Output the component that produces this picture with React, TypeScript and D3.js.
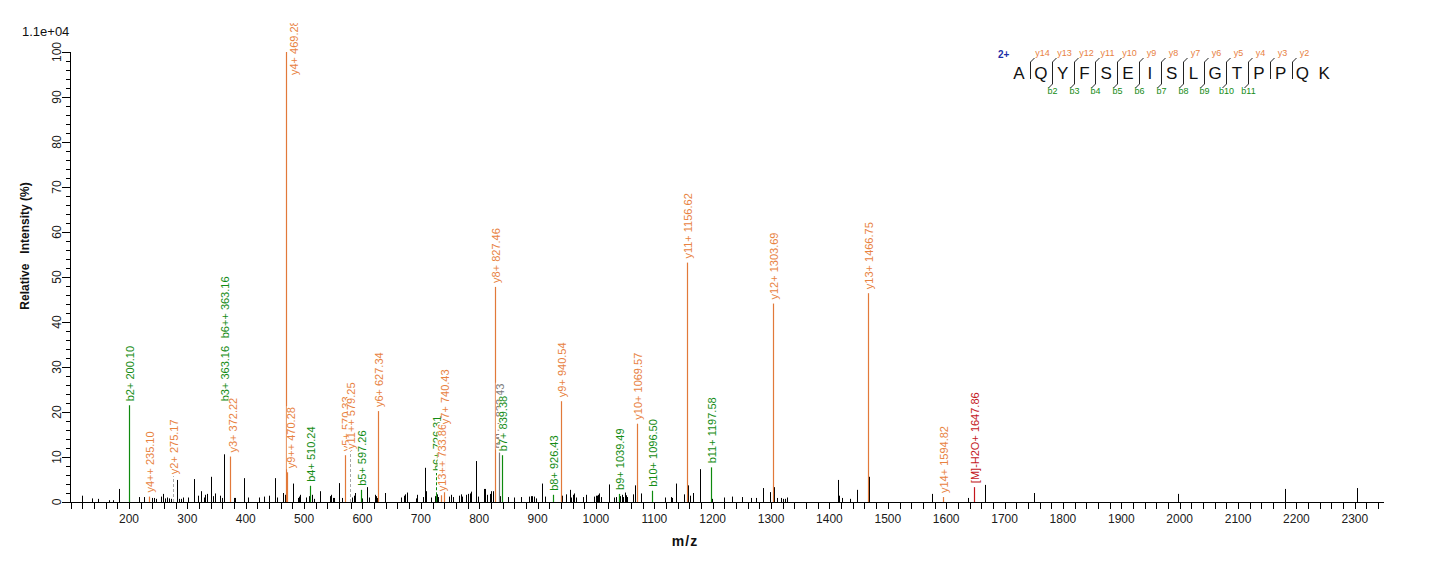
import React, { useEffect, useRef } from 'react';
import * as d3 from 'd3';

const W = 1436;
const H = 562;
const FONT = 'Arial, "Liberation Sans", sans-serif';

// Unassigned fragment peaks: m/z and relative intensity (%)
const peakMz = [
  120, 137, 147, 166, 173, 183, 218, 226, 240, 243, 246, 255, 259, 262, 265, 269, 272, 283, 286, 289,
  292, 301.6, 312, 319, 324, 328, 331, 333, 341, 344, 347, 356, 359, 363, 380, 382, 397.5, 404, 422, 432,
  440, 451, 454, 464, 467, 481, 489.5, 492, 493.5, 503, 508, 513, 517, 528, 544, 546.5, 549, 552, 560, 565,
  582, 585, 588, 600, 608, 612, 621, 623, 625, 639, 666, 670.5, 673, 676, 692, 694, 703.6, 706.5, 707.8, 709.5,
  718, 724.6, 727.5, 730, 748, 751, 755.5, 765, 768, 770, 778, 780.7, 783.6, 785.5, 795, 798, 808, 810, 813,
  818, 821, 824, 835.5, 849, 859.5, 872, 885.7, 888, 890.8, 893, 896.6, 908, 912, 942, 948.5, 955, 958, 961,
  963, 965.7, 978, 983, 997, 999.5, 1001.6, 1003.4, 1005.6, 1009, 1021.6, 1030.8, 1034.7, 1041.7, 1044.5,
  1046.7, 1049, 1051.3, 1054, 1063.8, 1066.7, 1077.6, 1118, 1129, 1130.7, 1137.5, 1151, 1158.5, 1161, 1166.6,
  1178.6, 1199.5, 1219, 1233, 1250.5, 1266, 1274.5, 1285.5, 1298, 1305.5, 1309.5, 1317.4, 1319.7, 1324.2,
  1327.6, 1414, 1416, 1420.8, 1436, 1448, 1468.5, 1575, 1638, 1666.7, 1751, 1997.5, 2180.7, 2304,
];
const peakPct = [
  1.4, 0.8, 0.7, 0.4, 0.4, 2.9, 1.1, 1.1, 0.9, 0.9, 0.7, 1.2, 1.8, 0.8, 1.0, 0.8, 0.7, 4.9, 0.7, 0.7,
  1.0, 1.0, 5.1, 1.4, 2.4, 1.0, 1.6, 1.8, 5.6, 1.3, 1.9, 1.4, 0.9, 10.6, 0.9, 0.9, 5.3, 1.0, 1.0, 1.2,
  1.4, 5.3, 1.0, 2.0, 1.6, 4.1, 0.9, 1.2, 1.6, 1.0, 1.3, 1.6, 0.7, 2.4, 1.3, 1.6, 0.9, 0.9, 4.2, 0.9,
  1.0, 1.4, 2.0, 0.8, 3.3, 1.0, 1.6, 1.3, 0.9, 2.0, 1.0, 1.4, 1.7, 2.1, 0.8, 1.6, 1.1, 1.7, 7.6, 2.4,
  1.0, 1.3, 1.7, 1.1, 1.2, 1.6, 1.1, 1.4, 1.7, 1.2, 1.6, 1.8, 1.9, 2.3, 9.1, 1.2, 2.9, 2.9, 1.6,
  1.8, 2.4, 2.4, 1.3, 1.1, 1.0, 1.1, 1.2, 1.3, 1.3, 1.2, 0.8, 4.1, 1.2, 1.4, 1.7, 2.7, 1.0, 1.6,
  1.9, 1.0, 1.1, 1.6, 1.2, 1.4, 1.4, 1.6, 1.9, 1.1, 3.9, 1.0, 1.1, 1.3, 1.6,
  1.1, 2.1, 1.5, 1.1, 1.7, 3.7, 1.9, 1.0, 1.1, 0.9, 4.1, 1.7, 3.7, 1.4, 2.0,
  7.3, 0.7, 1.0, 1.2, 1.1, 0.9, 0.9, 3.1, 2.2, 3.3, 0.9, 0.9, 0.7, 0.7,
  1.0, 4.9, 1.4, 0.9, 0.7, 2.7, 5.6, 1.8, 0.9, 3.8, 2.0, 1.8, 2.9, 3.1,
];

// Assigned ions, in drawing order (later labels sit on top of earlier ones)
const ionLabel = [
  'b2+', 'y4++', 'y2+', 'b6++', 'b3+', 'y3+', 'y4+', 'y9++', 'b4+', 'y5+', 'y11++', 'b5+', 'y6+',
  'b6+', 'y13++', 'y7+', 'y8+', '[M]++', 'b7+', 'b8+', 'y9+', 'b9+', 'y10+', 'b10+', 'y11+', 'b11+',
  'y12+', 'y13+', 'y14+', '[M]-H2O+',
];
const ionMz = [
  200.10, 235.10, 275.17, 363.16, 363.16, 372.22, 469.28, 470.28, 510.24, 570.33, 579.25, 597.26, 627.34,
  726.31, 733.86, 740.43, 827.46, 833.43, 839.38, 926.43, 940.54, 1039.49, 1069.57, 1096.50, 1156.62, 1197.58,
  1303.69, 1466.75, 1594.82, 1647.86,
];
const ionPct = [
  21.5, 1.2, 0, 0, 0, 10.1, 100, 6.6, 3.6, 10.4, 0, 2.7, 20.2,
  1.5, 1.5, 16.4, 47.8, 11.0, 10.4, 1.6, 22.4, 1.8, 17.4, 2.5, 53.2, 7.7,
  44.1, 46.4, 1.1, 3.3,
];
// Level (%) where a displaced label starts; null keeps it on the peak top
const ionLabelPct: (number | null)[] = [
  null, null, 5.3, 35.5, 21.5, null, 94.0, null, null, null, 10.9, null, null,
  6.0, null, null, null, null, null, null, null, null, null, null, null, null,
  null, null, null, null,
];
const ionDx = [
  1, 1, 1, 1, 1, 3, 8, 4, 1, 1, 1, 1, 1,
  1, 1, 1, 1, 1, 1, 1, 1, 1, 1, 1, 1, 1,
  1, 1, 1, 1,
];
// Connector from peak to a displaced label
const ionLink = [
  '', '', 'grey', '', '', '', '', '', '', '', 'grey', '', '',
  'b', '', '', '', '', '', '', '', '', '', '', '', '',
  '', '', '', '',
];

const xTickStart = 100;
const xTickEnd = 2340;
const xLabels = d3.range(200, 2301, 100);
const yLabels = d3.range(0, 101, 10);

const sequence = 'AQYFSEISLGTPPQK';
const yIons = [14, 13, 12, 11, 10, 9, 8, 7, 6, 5, 4, 3, 2];
const bIons = [0, 2, 3, 4, 5, 6, 7, 8, 9, 10, 11, 0, 0];

const COLORS: Record<string, { line: string; text: string }> = {
  y: { line: '#E2793A', text: '#E8823F' },
  b: { line: '#0E8A0E', text: '#148C14' },
  p: { line: '#7a7a7a', text: '#7A7A7A' },
  m: { line: '#C4161C', text: '#C4161C' },
};

function ionKind(name: string): string {
  if (name.startsWith('[M]-')) return 'm';
  if (name.startsWith('[M]')) return 'p';
  return name[0];
}

export default function App() {
  const ref = useRef<SVGSVGElement | null>(null);

  useEffect(() => {
    const svg = d3.select(ref.current);
    svg.selectAll('*').remove();

    const x = d3.scaleLinear().domain([100, 2350]).range([70.6, 1384]);
    const y = d3.scaleLinear().domain([0, 100]).range([502, 52]);
    const px = (v: number) => Math.round(x(v)) + 0.5;

    svg.append('rect').attr('width', W).attr('height', H).attr('fill', '#fff');

    const defs = svg.append('defs');
    defs.append('clipPath').attr('id', 'plot-clip')
      .append('rect').attr('x', 70).attr('y', 23).attr('width', 1330).attr('height', 480);

    const plot = svg.append('g').attr('clip-path', 'url(#plot-clip)');

    // unassigned peaks
    plot.append('g').selectAll('line').data(d3.range(peakMz.length)).join('line')
      .attr('x1', (i) => px(peakMz[i])).attr('x2', (i) => px(peakMz[i]))
      .attr('y1', y(0)).attr('y2', (i) => y(peakPct[i]))
      .attr('stroke', '#000').attr('stroke-width', 1);

    // assigned peaks and connectors
    const idx = d3.range(ionMz.length);
    plot.append('g').selectAll('line').data(idx.filter((i) => ionPct[i] > 0)).join('line')
      .attr('x1', (i) => px(ionMz[i])).attr('x2', (i) => px(ionMz[i]))
      .attr('y1', y(0)).attr('y2', (i) => y(ionPct[i]))
      .attr('stroke', (i) => COLORS[ionKind(ionLabel[i])].line).attr('stroke-width', 1.2);

    plot.append('g').selectAll('line').data(idx.filter((i) => ionLink[i] !== '')).join('line')
      .attr('x1', (i) => px(ionMz[i])).attr('x2', (i) => px(ionMz[i]))
      .attr('y1', (i) => y(ionPct[i]))
      .attr('y2', (i) => y(ionLabelPct[i] as number) - 2)
      .attr('stroke', (i) => (ionLink[i] === 'grey' ? '#a8a8a8' : COLORS.b.line))
      .attr('stroke-dasharray', '3,2').attr('stroke-width', 1);

    // labels, each on a white backing so later ones cover earlier ones
    const labels = plot.append('g');
    idx.forEach((i) => {
      const lvl = ionLabelPct[i] ?? ionPct[i];
      const g = labels.append('g')
        .attr('transform', `translate(${x(ionMz[i]) + ionDx[i]},${y(lvl) - 4}) rotate(-90)`);
      const bg = g.append('rect').attr('fill', '#fff');
      const t = g.append('text')
        .attr('x', 0).attr('y', 0)
        .attr('dominant-baseline', 'central')
        .attr('font-family', FONT).attr('font-size', 11)
        .attr('fill', COLORS[ionKind(ionLabel[i])].text)
        .text(`${ionLabel[i]} ${ionMz[i].toFixed(2)}`);
      const len = (t.node() as SVGTextElement).getComputedTextLength();
      bg.attr('x', -1).attr('y', -4).attr('width', len + 2).attr('height', 8);
    });

    // y axis
    const ya = svg.append('g');
    ya.append('line').attr('x1', 70.5).attr('x2', 70.5).attr('y1', y(100)).attr('y2', y(0) + 0.5)
      .attr('stroke', '#000');
    ya.selectAll('line.t').data(d3.range(0, 101, 2)).join('line').attr('class', 't')
      .attr('x1', (v) => (v % 10 === 0 ? 62 : 66)).attr('x2', 70)
      .attr('y1', (v) => Math.round(y(v)) + 0.5).attr('y2', (v) => Math.round(y(v)) + 0.5)
      .attr('stroke', '#000');
    ya.selectAll('text').data(yLabels).join('text')
      .attr('transform', (v) => `translate(57,${y(v)}) rotate(-90)`)
      .attr('text-anchor', 'middle').attr('dominant-baseline', 'central')
      .attr('font-family', FONT).attr('font-size', 12).attr('fill', '#1a1a1a')
      .text((v) => String(v));

    // x axis
    const xa = svg.append('g');
    xa.append('line').attr('x1', 70).attr('x2', 1384).attr('y1', 502.5).attr('y2', 502.5)
      .attr('stroke', '#000');
    xa.selectAll('line.t').data(d3.range(xTickStart, xTickEnd + 1, 20)).join('line').attr('class', 't')
      .attr('x1', (v) => px(v)).attr('x2', (v) => px(v))
      .attr('y1', 502).attr('y2', 509).attr('stroke', '#000');
    xa.selectAll('text').data(xLabels).join('text')
      .attr('x', (v) => x(v)).attr('y', 523)
      .attr('text-anchor', 'middle')
      .attr('font-family', FONT).attr('font-size', 12).attr('fill', '#1a1a1a')
      .text((v) => String(v));

    // titles
    svg.append('text').attr('x', 22).attr('y', 36)
      .attr('font-family', FONT).attr('font-size', 13).attr('fill', '#111')
      .text('1.1e+04');
    svg.append('text')
      .attr('transform', 'translate(29,246) rotate(-90)')
      .attr('text-anchor', 'middle')
      .attr('font-family', FONT).attr('font-size', 12).attr('font-weight', 'bold').attr('fill', '#111')
      .attr('xml:space', 'preserve')
      .text('Relative   Intensity (%)');
    svg.append('text').attr('x', 685).attr('y', 546)
      .attr('text-anchor', 'middle')
      .attr('font-family', FONT).attr('font-size', 14).attr('font-weight', 'bold').attr('fill', '#111')
      .attr('letter-spacing', 1)
      .text('m/z');

    // peptide sequence with fragment coverage marks
    const pep = svg.append('g');
    const sx = (i: number) => 1019 + i * 21.8;
    pep.append('text').attr('x', 998).attr('y', 57.5)
      .attr('font-family', FONT).attr('font-size', 10).attr('font-weight', 'bold').attr('fill', '#1c2fa8')
      .text('2+');
    pep.selectAll('text.aa').data(sequence.split('')).join('text').attr('class', 'aa')
      .attr('x', (_, i) => sx(i)).attr('y', 79)
      .attr('text-anchor', 'middle')
      .attr('font-family', FONT).attr('font-size', 17).attr('fill', '#111')
      .text((c) => c);
    yIons.forEach((n, i) => {
      const bx = Math.round(sx(i + 0.5)) + 0.5;
      const b = bIons[i];
      const bottom = b ? 84 : 79;
      pep.append('path')
        .attr('d', `M${bx + 4},58 L${bx},62 L${bx},${bottom}` + (b ? ` L${bx - 4},88` : ''))
        .attr('fill', 'none').attr('stroke', '#222').attr('stroke-width', 1);
      pep.append('text').attr('x', bx + 12).attr('y', 56)
        .attr('text-anchor', 'middle')
        .attr('font-family', FONT).attr('font-size', 9).attr('fill', COLORS.y.text)
        .text(`y${n}`);
      if (b) {
        pep.append('text').attr('x', bx).attr('y', 94)
          .attr('text-anchor', 'middle')
          .attr('font-family', FONT).attr('font-size', 9).attr('fill', COLORS.b.text)
          .text(`b${b}`);
      }
    });
  }, []);

  return (
    <svg
      ref={ref}
      width={W}
      height={H}
      style={{ position: 'absolute', left: 0, top: 0, display: 'block' }}
    />
  );
}
